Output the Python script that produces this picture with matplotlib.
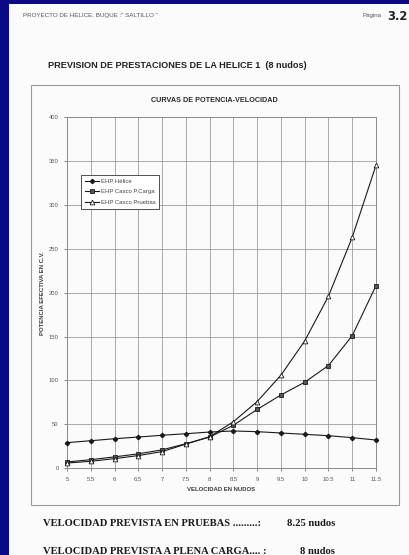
import numpy as np
import matplotlib
matplotlib.use('Agg')
import matplotlib.pyplot as plt
from matplotlib.patches import Rectangle

# speeds (knots) and effective power (C.V.)
velocidad = [5, 5.5, 6, 6.5, 7, 7.5, 8, 8.5, 9, 9.5, 10, 10.5, 11, 11.5]
ehp_helice = [29.2, 31.4, 33.7, 35.6, 37.6, 39.4, 41.3, 42.5, 41.7, 40.2, 38.7, 37.1, 34.9, 32.2]
ehp_carga = [7.2, 9.8, 13, 16.5, 21, 28, 35.5, 49, 67, 83.5, 98, 117, 151, 208]
ehp_pruebas = [6, 8, 11, 14.5, 19, 27.5, 36, 53, 76, 106, 145, 196, 263, 345]

series_labels = ['EHP Hélice', 'EHP Casco P.Carga', 'EHP Casco Pruebas']
xticks = velocidad
xtick_labels = ['5', '5.5', '6', '6.5', '7', '7.5', '8', '8.5', '9', '9.5', '10', '10.5', '11', '11.5']
yticks = [0, 50, 100, 150, 200, 250, 300, 350, 400]

W, H = 410, 555
fig = plt.figure(figsize=(W / 100, H / 100), dpi=100)
fig.patch.set_facecolor('#0a0a84')

def fx(px): return px / W
def fy(py): return 1 - py / H

# white page of the scan
fig.patches.append(Rectangle((fx(9), 0), fx(W) - fx(9), fy(4), transform=fig.transFigure,
                             facecolor='#fbfbfb', edgecolor='none', zorder=-2))
# outer chart frame
fig.patches.append(Rectangle((fx(31), fy(505)), fx(399) - fx(31), fy(85) - fy(505),
                             transform=fig.transFigure, facecolor='none',
                             edgecolor='#9a9a9a', lw=0.8, zorder=-1))

txt = '#3a3a3a'
fig.text(fx(23), fy(15), 'PROYECTO DE HELICE. BUQUE :" SALTILLO "', fontsize=4.5,
         family='Liberation Sans', color='#555555', va='center')
fig.text(fx(363), fy(16), 'Página', fontsize=4.4, family='Liberation Sans', color='#555555', va='center')
fig.text(fx(387), fy(17), '3.2', fontsize=8.3, family='DejaVu Sans', weight='bold',
         color='#222222', va='center')
fig.text(fx(48), fy(65), 'PREVISION DE PRESTACIONES DE LA HELICE 1  (8 nudos)', fontsize=6.6,
         family='Liberation Sans', weight='bold', color='#222222', va='center')
fig.text(fx(214), fy(101), 'CURVAS DE POTENCIA-VELOCIDAD', fontsize=5.2,
         family='Liberation Sans', weight='bold', color='#2a2a2a', ha='center', va='center')

fig.text(fx(43), fy(523), 'VELOCIDAD PREVISTA EN PRUEBAS .........:', fontsize=7.6,
         family='Liberation Serif', weight='bold', color='#1a1a1a', va='center')
fig.text(fx(287), fy(523), '8.25 nudos', fontsize=7.6,
         family='Liberation Serif', weight='bold', color='#1a1a1a', va='center')
fig.text(fx(43), fy(552), 'VELOCIDAD PREVISTA A PLENA CARGA.... :', fontsize=7.6,
         family='Liberation Serif', weight='bold', color='#1a1a1a', va='center')
fig.text(fx(300), fy(552), '8 nudos', fontsize=7.6,
         family='Liberation Serif', weight='bold', color='#1a1a1a', va='center')

ax = fig.add_axes([fx(67), fy(468.3), fx(376) - fx(67), fy(117) - fy(468.3)])
ax.set_zorder(2)
ax.set_facecolor('none')
ax.set_xlim(5, 11.5)
ax.set_ylim(0, 400)

ax.plot(velocidad, ehp_helice, color='#1a1a1a', lw=0.8, marker='D', ms=2.2,
        mfc='#1a1a1a', mec='#1a1a1a', label=series_labels[0], clip_on=False, zorder=3)
ax.plot(velocidad, ehp_carga, color='#1a1a1a', lw=0.8, marker='s', ms=3.2,
        mfc='#555555', mec='#1a1a1a', mew=0.6, label=series_labels[1], clip_on=False, zorder=3)
ax.plot(velocidad, ehp_pruebas, color='#1a1a1a', lw=0.8, marker='^', ms=3.4,
        mfc='white', mec='#1a1a1a', mew=0.6, label=series_labels[2], clip_on=False, zorder=3)

ax.set_xticks(xticks)
ax.set_xticklabels(xtick_labels)
ax.set_yticks(yticks)
ax.grid(True, color='#9c9c9c', lw=0.6)
ax.set_axisbelow(True)
for s in ax.spines.values():
    s.set_color('#8a8a8a')
    s.set_linewidth(0.7)
ax.tick_params(axis='both', labelsize=4.2, colors='#555555', length=2, width=0.5, pad=4)
for lab in ax.get_xticklabels() + ax.get_yticklabels():
    lab.set_family('Liberation Sans')

ax.set_xlabel('VELOCIDAD EN NUDOS', fontsize=4.3, family='Liberation Sans',
              weight='bold', color=txt, labelpad=4)
ax.set_ylabel('POTENCIA EFECTIVA EN C.V.', fontsize=4.3, family='Liberation Sans',
              weight='bold', color=txt, labelpad=3)

leg = ax.legend(loc='upper left', bbox_to_anchor=(0.036, 0.843),
                frameon=True, fancybox=False, edgecolor='#333333', framealpha=1,
                handlelength=2.4, borderpad=0.6, labelspacing=0.9, handletextpad=0.3,
                prop={'family': 'Liberation Sans', 'size': 4.3})
leg.get_frame().set_linewidth(0.6)
for t in leg.get_texts():
    t.set_color('#444444')

fig.savefig('out.png', dpi=100, facecolor=fig.get_facecolor())
